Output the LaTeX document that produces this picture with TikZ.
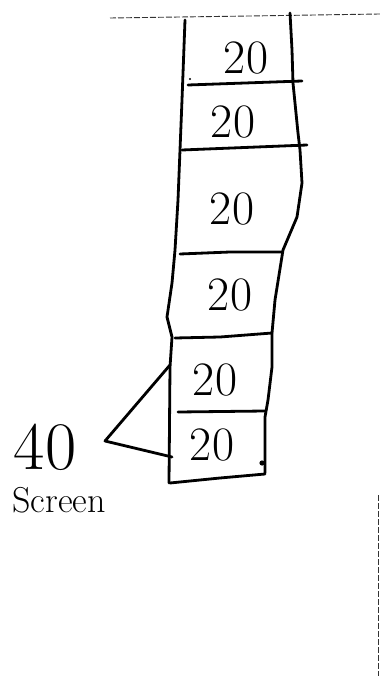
\documentclass[tikz,border=0pt]{standalone}
\usepackage{fontspec}
\begin{document}
\begin{tikzpicture}[x=1pt,y=-1pt,
  ink/.style={line width=2.8pt,line join=round,line cap=round,black},
  thinink/.style={line width=0.9pt,dashed,dash pattern=on 6pt off 2pt,black!80},
  num/.style={font=\fontsize{48}{48}\selectfont,inner sep=0pt},
  big/.style={font=\fontsize{68}{68}\selectfont,inner sep=0pt},
  small/.style={font=\fontsize{36}{36}\selectfont,inner sep=0pt}]
\useasboundingbox (0,0) rectangle (380,676);
% top dashed edge
\draw[thinink] (110,18) -- (250,16) -- (380,14);
% right dashed edge
\draw[thinink,line width=1.2pt] (378.5,495) -- (378.5,676);
% left wall
\draw[ink] (185,20) -- (182,100) -- (180,150) -- (178,200) -- (175,250) -- (172,283) -- (167,317) -- (172,337) -- (170,367) -- (169,483);
% right wall
\draw[ink] (290,13) -- (292,50) -- (293,83) -- (298,133) -- (300,150) -- (302,183) -- (297,217) -- (283,250) -- (275,300) -- (272,333) -- (272,367) -- (268,400) -- (265,417) -- (265,473);
% dividers
\draw[ink] (188,85) -- (302,81);
\draw[ink] (182,150) -- (307,145);
\draw[ink] (180,254) -- (230,252) -- (282,252);
\draw[ink] (175,338) -- (220,337) -- (272,333);
\draw[ink] (178,412) -- (265,411);
\draw[ink] (170,483) -- (220,478) -- (265,474);
\fill (262,463) circle (2.6pt);
\fill (190,79) circle (1.2pt);
% labels
\node[num] (a) at (246,58) {20};
\node[num] (b) at (233,122) {20};
\node[num] (c) at (232,209) {20};
\node[num] (d) at (230,295) {20};
\node[num] (e) at (215,380) {20};
\node[num] (f) at (212,445) {20};
% bracket triangle
\coordinate (t1) at (170,365);
\coordinate (t2) at (105,441);
\coordinate (t3) at (172,457);
\draw[ink] (t1) -- (t2) -- (t3);
\node[big] (g) at (45,447) {40};
\node[small] (h) at (59,500) {Screen};
\end{tikzpicture}
\end{document}
